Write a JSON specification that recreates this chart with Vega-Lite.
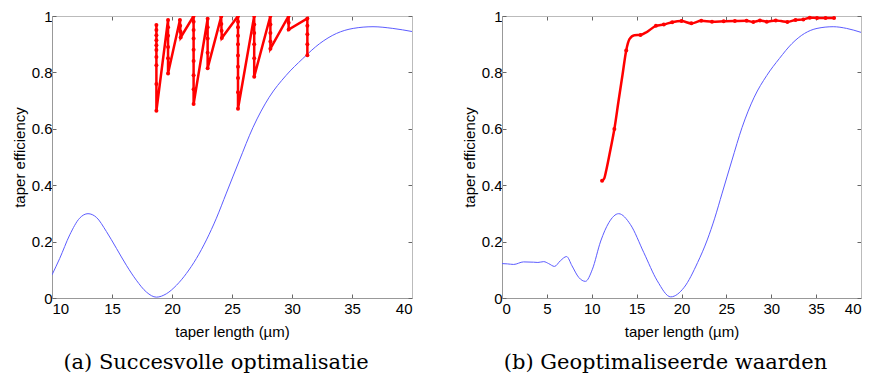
{
  "$schema": "https://vega.github.io/schema/vega-lite/v6.json",
  "padding": {"left": 12, "top": 9, "right": 2, "bottom": 0},
  "spacing": 49,
  "config": {
    "view": {"stroke": null},
    "font": "Liberation Sans",
    "axis": {
      "labelFont": "Liberation Sans",
      "labelFontSize": 15,
      "labelColor": "#000000",
      "titleFont": "Liberation Sans",
      "titleFontSize": 15,
      "titleFontWeight": "normal",
      "titleColor": "#000000",
      "domainColor": "#999999",
      "tickColor": "#666666",
      "tickSize": -4,
      "grid": false
    }
  },
  "datasets": {
    "blueA": [
      {"x": 10.0, "y": 0.082}, {"x": 10.64, "y": 0.140}, {"x": 11.48, "y": 0.224}, {"x": 12.3, "y": 0.283},
      {"x": 13.0, "y": 0.299}, {"x": 13.7, "y": 0.286}, {"x": 14.53, "y": 0.236}, {"x": 15.37, "y": 0.176},
      {"x": 16.2, "y": 0.116}, {"x": 17.03, "y": 0.063}, {"x": 17.87, "y": 0.021}, {"x": 18.7, "y": 0.003},
      {"x": 19.53, "y": 0.015}, {"x": 20.37, "y": 0.045}, {"x": 21.2, "y": 0.087}, {"x": 22.03, "y": 0.140},
      {"x": 22.87, "y": 0.206}, {"x": 23.7, "y": 0.283}, {"x": 24.53, "y": 0.372}, {"x": 25.6, "y": 0.486},
      {"x": 26.75, "y": 0.605}, {"x": 28.1, "y": 0.712}, {"x": 29.5, "y": 0.789}, {"x": 30.9, "y": 0.849},
      {"x": 32.3, "y": 0.902}, {"x": 33.7, "y": 0.938}, {"x": 35.1, "y": 0.956}, {"x": 36.75, "y": 0.962},
      {"x": 38.4, "y": 0.956}, {"x": 40.0, "y": 0.945}
    ],
    "redA": [
      {"i": 1, "x": 18.7, "y": 0.968}, {"i": 2, "x": 18.7, "y": 0.950}, {"i": 3, "x": 18.7, "y": 0.932},
      {"i": 4, "x": 18.7, "y": 0.914}, {"i": 5, "x": 18.7, "y": 0.896}, {"i": 6, "x": 18.7, "y": 0.879},
      {"i": 7, "x": 18.7, "y": 0.855}, {"i": 8, "x": 18.7, "y": 0.825}, {"i": 9, "x": 18.7, "y": 0.759},
      {"i": 10, "x": 18.7, "y": 0.664},
      {"i": 11, "x": 19.67, "y": 0.986}, {"i": 12, "x": 19.67, "y": 0.96}, {"i": 13, "x": 19.67, "y": 0.93},
      {"i": 14, "x": 19.67, "y": 0.89}, {"i": 15, "x": 19.67, "y": 0.85}, {"i": 16, "x": 19.67, "y": 0.796},
      {"i": 17, "x": 20.66, "y": 0.986}, {"i": 18, "x": 20.68, "y": 0.965}, {"i": 19, "x": 20.7, "y": 0.945},
      {"i": 20, "x": 20.72, "y": 0.924},
      {"i": 21, "x": 21.8, "y": 1.0}, {"i": 22, "x": 21.8, "y": 0.98}, {"i": 23, "x": 21.8, "y": 0.95},
      {"i": 24, "x": 21.8, "y": 0.92}, {"i": 25, "x": 21.8, "y": 0.88}, {"i": 26, "x": 21.8, "y": 0.84},
      {"i": 27, "x": 21.8, "y": 0.79}, {"i": 28, "x": 21.8, "y": 0.74}, {"i": 29, "x": 21.8, "y": 0.688},
      {"i": 30, "x": 22.97, "y": 0.99}, {"i": 31, "x": 22.97, "y": 0.96}, {"i": 32, "x": 22.97, "y": 0.92},
      {"i": 33, "x": 22.97, "y": 0.87}, {"i": 34, "x": 22.97, "y": 0.815},
      {"i": 35, "x": 24.1, "y": 0.998}, {"i": 36, "x": 24.11, "y": 0.972}, {"i": 37, "x": 24.13, "y": 0.948},
      {"i": 38, "x": 24.15, "y": 0.922},
      {"i": 39, "x": 25.5, "y": 1.0}, {"i": 40, "x": 25.5, "y": 0.98}, {"i": 41, "x": 25.5, "y": 0.96},
      {"i": 42, "x": 25.5, "y": 0.93}, {"i": 43, "x": 25.5, "y": 0.90}, {"i": 44, "x": 25.5, "y": 0.86},
      {"i": 45, "x": 25.5, "y": 0.82}, {"i": 46, "x": 25.5, "y": 0.78}, {"i": 47, "x": 25.5, "y": 0.73},
      {"i": 48, "x": 25.5, "y": 0.671},
      {"i": 49, "x": 26.85, "y": 1.0}, {"i": 50, "x": 26.85, "y": 0.97}, {"i": 51, "x": 26.85, "y": 0.94},
      {"i": 52, "x": 26.85, "y": 0.90}, {"i": 53, "x": 26.85, "y": 0.85}, {"i": 54, "x": 26.85, "y": 0.785},
      {"i": 55, "x": 28.2, "y": 1.0}, {"i": 56, "x": 28.2, "y": 0.97}, {"i": 57, "x": 28.2, "y": 0.94},
      {"i": 58, "x": 28.2, "y": 0.91}, {"i": 59, "x": 28.2, "y": 0.884},
      {"i": 60, "x": 29.72, "y": 1.0}, {"i": 61, "x": 29.72, "y": 0.976}, {"i": 62, "x": 29.72, "y": 0.952},
      {"i": 63, "x": 31.28, "y": 0.991}, {"i": 64, "x": 31.28, "y": 0.965}, {"i": 65, "x": 31.28, "y": 0.935},
      {"i": 66, "x": 31.28, "y": 0.90}, {"i": 67, "x": 31.28, "y": 0.861}
    ],
    "blueB": [
      {"x": 0.0, "y": 0.122}, {"x": 0.6, "y": 0.121}, {"x": 1.3, "y": 0.119}, {"x": 2.4, "y": 0.128},
      {"x": 3.5, "y": 0.127}, {"x": 4.0, "y": 0.126}, {"x": 4.65, "y": 0.129}, {"x": 5.2, "y": 0.122},
      {"x": 5.85, "y": 0.112}, {"x": 6.5, "y": 0.132}, {"x": 7.2, "y": 0.147}, {"x": 7.8, "y": 0.114},
      {"x": 8.55, "y": 0.073}, {"x": 9.3, "y": 0.059}, {"x": 10.05, "y": 0.10}, {"x": 11.0, "y": 0.202},
      {"x": 11.9, "y": 0.267}, {"x": 13.0, "y": 0.299}, {"x": 14.3, "y": 0.261}, {"x": 15.8, "y": 0.161},
      {"x": 17.3, "y": 0.061}, {"x": 18.8, "y": 0.004}, {"x": 20.3, "y": 0.038}, {"x": 21.8, "y": 0.126},
      {"x": 22.87, "y": 0.206}, {"x": 23.7, "y": 0.283}, {"x": 24.53, "y": 0.372}, {"x": 25.6, "y": 0.486},
      {"x": 26.75, "y": 0.605}, {"x": 28.1, "y": 0.712}, {"x": 29.5, "y": 0.789}, {"x": 30.9, "y": 0.849},
      {"x": 32.3, "y": 0.902}, {"x": 33.7, "y": 0.938}, {"x": 35.1, "y": 0.956}, {"x": 36.9, "y": 0.962},
      {"x": 38.4, "y": 0.956}, {"x": 40.0, "y": 0.942}
    ],
    "redB": [
      {"x": 11.15, "y": 0.416, "m": 1}, {"x": 11.4, "y": 0.425, "m": 0}, {"x": 11.63, "y": 0.455, "m": 0},
      {"x": 12.08, "y": 0.526, "m": 0}, {"x": 12.52, "y": 0.599, "m": 1}, {"x": 13.0, "y": 0.702, "m": 0},
      {"x": 13.42, "y": 0.79, "m": 0}, {"x": 13.84, "y": 0.878, "m": 1}, {"x": 14.2, "y": 0.918, "m": 0},
      {"x": 14.75, "y": 0.932, "m": 0}, {"x": 15.43, "y": 0.933, "m": 1}, {"x": 16.17, "y": 0.944, "m": 0},
      {"x": 17.15, "y": 0.965, "m": 1}, {"x": 18.03, "y": 0.970, "m": 1}, {"x": 18.96, "y": 0.978, "m": 1},
      {"x": 20.0, "y": 0.982, "m": 1}, {"x": 21.1, "y": 0.974, "m": 1}, {"x": 22.2, "y": 0.983, "m": 1},
      {"x": 23.4, "y": 0.980, "m": 1}, {"x": 24.7, "y": 0.981, "m": 1}, {"x": 25.95, "y": 0.982, "m": 1},
      {"x": 27.25, "y": 0.983, "m": 1}, {"x": 28.0, "y": 0.979, "m": 1}, {"x": 28.74, "y": 0.984, "m": 1},
      {"x": 29.5, "y": 0.980, "m": 1}, {"x": 30.5, "y": 0.984, "m": 1}, {"x": 31.1, "y": 0.982, "m": 0},
      {"x": 31.8, "y": 0.979, "m": 1}, {"x": 32.7, "y": 0.986, "m": 1}, {"x": 33.57, "y": 0.988, "m": 1},
      {"x": 34.3, "y": 0.994, "m": 1}, {"x": 35.1, "y": 0.993, "m": 1}, {"x": 36.05, "y": 0.993, "m": 1},
      {"x": 37.0, "y": 0.993, "m": 1}
    ]
  },
  "hconcat": [
    {
      "width": 360,
      "height": 282,
      "title": {"text": "(a)  Succesvolle optimalisatie", "orient": "bottom", "anchor": "middle", "font": "DejaVu Serif", "fontSize": 21, "fontWeight": "normal", "color": "#000000", "offset": 13, "dx": -16},
      "layer": [
        {
          "data": {"name": "blueA"},
          "mark": {"type": "line", "color": "#5c5cff", "strokeWidth": 1, "clip": true, "interpolate": "monotone"},
          "encoding": {
            "x": {"field": "x", "type": "quantitative", "scale": {"domain": [10, 40], "nice": false, "zero": false},
                  "axis": {"orient": "bottom", "title": "taper length (µm)", "values": [10, 15, 20, 25, 30, 35, 40], "labelPadding": 7, "titlePadding": 8}},
            "y": {"field": "y", "type": "quantitative", "scale": {"domain": [0, 1], "nice": false},
                  "axis": {"orient": "left", "title": "taper efficiency", "values": [0, 0.2, 0.4, 0.6, 0.8, 1], "format": "~g", "labelPadding": 4, "titlePadding": 4}}
          }
        },
        {
          "data": {"name": "redA"},
          "mark": {"type": "line", "color": "#ff0000", "strokeWidth": 2.5, "clip": true, "point": {"filled": true, "color": "#ff0000", "size": 16}},
          "encoding": {
            "x": {"field": "x", "type": "quantitative", "axis": {"orient": "top", "title": null, "labels": false, "values": [10, 15, 20, 25, 30, 35, 40], "domainColor": "#bbbbbb"}},
            "y": {"field": "y", "type": "quantitative", "axis": {"orient": "right", "title": null, "labels": false, "values": [0, 0.2, 0.4, 0.6, 0.8, 1], "domainColor": "#bbbbbb"}},
            "order": {"field": "i", "type": "quantitative"}
          }
        }
      ],
      "resolve": {"axis": {"x": "independent", "y": "independent"}}
    },
    {
      "width": 359,
      "height": 282,
      "title": {"text": "(b)  Geoptimaliseerde waarden", "orient": "bottom", "anchor": "middle", "font": "DejaVu Serif", "fontSize": 21, "fontWeight": "normal", "color": "#000000", "offset": 13, "dx": -16},
      "layer": [
        {
          "data": {"name": "blueB"},
          "mark": {"type": "line", "color": "#5c5cff", "strokeWidth": 1, "clip": true, "interpolate": "monotone"},
          "encoding": {
            "x": {"field": "x", "type": "quantitative", "scale": {"domain": [0, 40], "nice": false},
                  "axis": {"orient": "bottom", "title": "taper length (µm)", "values": [0, 5, 10, 15, 20, 25, 30, 35, 40], "labelPadding": 7, "titlePadding": 8}},
            "y": {"field": "y", "type": "quantitative", "scale": {"domain": [0, 1], "nice": false},
                  "axis": {"orient": "left", "title": "taper efficiency", "values": [0, 0.2, 0.4, 0.6, 0.8, 1], "format": "~g", "labelPadding": 4, "titlePadding": 4}}
          }
        },
        {
          "data": {"name": "redB"},
          "mark": {"type": "line", "color": "#ff0000", "strokeWidth": 2.5, "clip": true, "interpolate": "monotone"},
          "encoding": {
            "x": {"field": "x", "type": "quantitative", "axis": {"orient": "top", "title": null, "labels": false, "values": [0, 5, 10, 15, 20, 25, 30, 35, 40], "domainColor": "#bbbbbb"}},
            "y": {"field": "y", "type": "quantitative", "axis": {"orient": "right", "title": null, "labels": false, "values": [0, 0.2, 0.4, 0.6, 0.8, 1], "domainColor": "#bbbbbb"}}
          }
        },
        {
          "data": {"name": "redB"},
          "transform": [{"filter": "datum.m == 1"}],
          "mark": {"type": "point", "filled": true, "color": "#ff0000", "size": 16, "opacity": 1},
          "encoding": {
            "x": {"field": "x", "type": "quantitative", "axis": null},
            "y": {"field": "y", "type": "quantitative", "axis": null}
          }
        }
      ],
      "resolve": {"axis": {"x": "independent", "y": "independent"}}
    }
  ]
}
